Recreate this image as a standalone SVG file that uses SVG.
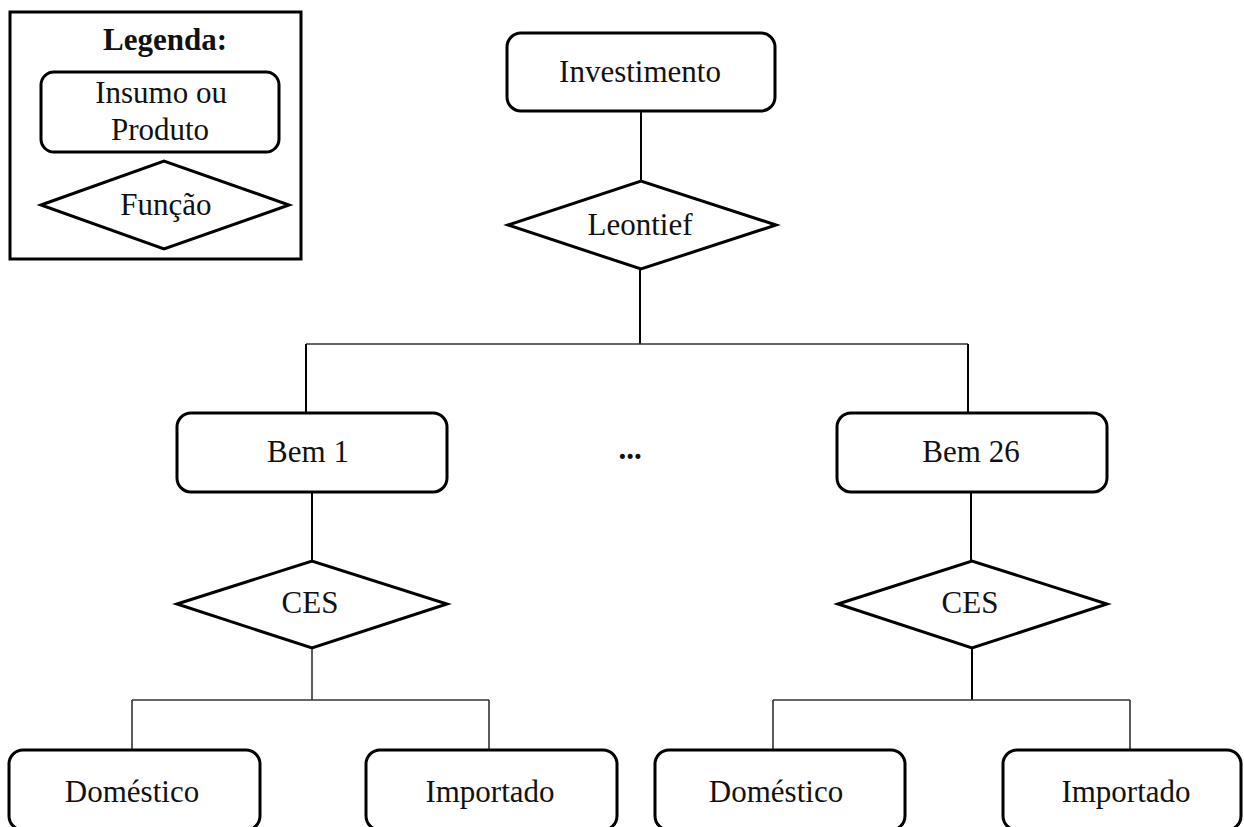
<svg xmlns="http://www.w3.org/2000/svg" width="1244" height="827" viewBox="0 0 1244 827">
<style>
.box{fill:#fff;stroke:#000;stroke-width:3}
.fn{fill:#fff;stroke:#000;stroke-width:3;stroke-linejoin:miter}
.t{font-family:"Liberation Serif","Times New Roman",serif;font-size:31px;fill:#111;text-anchor:middle}
.b{font-weight:bold}
.c{fill:none;stroke:#000;stroke-width:2}
.h{fill:none;stroke:#333;stroke-width:1.6}
</style>
<rect width="1244" height="827" fill="#fff"/>
<g id="legend">
<rect x="10" y="12" width="291" height="247" fill="#fff" stroke="#000" stroke-width="3"/>
<text class="t b" x="165" y="50" font-size="29">Legenda:</text>
<rect class="box" x="41" y="72" width="238" height="80" rx="13"/>
<text class="t" x="161" y="103">Insumo ou</text>
<text class="t" x="160" y="140">Produto</text>
<polygon class="fn" points="41,205 164,161 289,205 164,249"/>
<text class="t" x="166" y="215">Função</text>
</g>
<g id="connectors">
<line class="c" x1="641" y1="111" x2="641" y2="181"/>
<line class="c" x1="640" y1="269" x2="640" y2="344"/>
<line class="h" x1="306" y1="344" x2="968" y2="344"/>
<line class="c" x1="306" y1="344" x2="306" y2="413"/>
<line class="c" x1="968" y1="344" x2="968" y2="413"/>
<line class="c" x1="312" y1="492" x2="312" y2="561"/>
<line class="c" x1="971" y1="492" x2="971" y2="561"/>
<line class="h" x1="312" y1="648" x2="312" y2="700"/>
<line class="h" x1="132" y1="700" x2="489" y2="700"/>
<line class="h" x1="132" y1="700" x2="132" y2="750"/>
<line class="h" x1="489" y1="700" x2="489" y2="750"/>
<line class="c" x1="972" y1="648" x2="972" y2="700"/>
<line class="h" x1="773" y1="700" x2="1130" y2="700"/>
<line class="h" x1="773" y1="700" x2="773" y2="750"/>
<line class="h" x1="1130" y1="700" x2="1130" y2="750"/>
</g>
<g id="investimento">
<rect class="box" x="507" y="33" width="268" height="78" rx="14"/>
<text class="t" x="640" y="82">Investimento</text>
</g>
<g id="leontief">
<polygon class="fn" points="508,225 641,181 776,225 641,269"/>
<text class="t" x="640" y="235">Leontief</text>
</g>
<g id="bem1">
<rect class="box" x="177" y="413" width="270" height="79" rx="14"/>
<text class="t" x="308" y="462">Bem 1</text>
</g>
<g id="dots">
<text class="t b" x="630" y="459">...</text>
</g>
<g id="bem26">
<rect class="box" x="837" y="413" width="270" height="79" rx="14"/>
<text class="t" x="971" y="462">Bem 26</text>
</g>
<g id="ces1">
<polygon class="fn" points="177,604 312,561 447,604 312,648"/>
<text class="t" x="310" y="613">CES</text>
</g>
<g id="ces26">
<polygon class="fn" points="838,604 972,561 1107,604 972,648"/>
<text class="t" x="970" y="613">CES</text>
</g>
<g id="domestico1">
<rect class="box" x="9" y="750" width="251" height="80" rx="14"/>
<text class="t" x="132" y="802">Doméstico</text>
</g>
<g id="importado1">
<rect class="box" x="366" y="750" width="251" height="80" rx="14"/>
<text class="t" x="490" y="802">Importado</text>
</g>
<g id="domestico26">
<rect class="box" x="655" y="750" width="250" height="80" rx="14"/>
<text class="t" x="776" y="802">Doméstico</text>
</g>
<g id="importado26">
<rect class="box" x="1003" y="750" width="238" height="80" rx="14"/>
<text class="t" x="1126" y="802">Importado</text>
</g>
</svg>
